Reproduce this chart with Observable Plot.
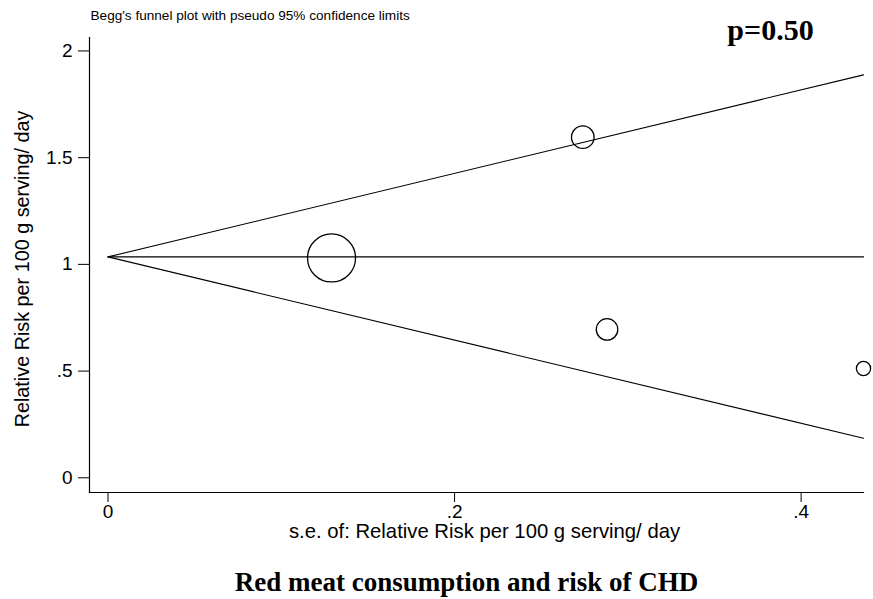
<!DOCTYPE html>
<html>
<head>
<meta charset="utf-8">
<script src="https://cdn.jsdelivr.net/npm/d3@7"></script>
<script src="https://cdn.jsdelivr.net/npm/@observablehq/plot@0.6"></script>
<style>
  html, body { margin: 0; padding: 0; background: #fff; }
  #chart svg { display: block; }
</style>
</head>
<body>
<div id="chart"></div>
<script>
// Study estimates
const studySE = [0.129, 0.274, 0.288, 0.436];
const studyRR = [1.030, 1.596, 0.695, 0.512];

// Pseudo 95% confidence limits (endpoints)
const funnelSE = [0, 0.436];
const funnelMid = [1.035, 1.035];
const funnelUpper = [1.035, 1.888];
const funnelLower = [1.035, 0.185];

// Axis ticks
const xTicks = [0, 0.2, 0.4];
const xTickLabels = ["0", ".2", ".4"];
const yTicks = [0, 0.5, 1, 1.5, 2];
const yTickLabels = ["0", ".5", "1", "1.5", "2"];

// Texts
const topTitle = "Begg's funnel plot with pseudo 95% confidence limits";
const pText = "p=0.50";
const xTitle = "s.e. of: Relative Risk per 100 g serving/ day";
const yTitle = "Relative Risk per 100 g serving/ day";
const caption = "Red meat consumption and risk of CHD";

const studies = studySE.map((s, i) => ({se: s, rr: studyRR[i], w: 1 / (s * s)}));
const funnel = funnelSE.map((s, i) => ({se: s, mid: funnelMid[i], upper: funnelUpper[i], lower: funnelLower[i]}));

const sans = "'Liberation Sans', Arial, Helvetica, sans-serif";
const serif = "'Liberation Serif', 'Times New Roman', serif";

const chart = Plot.plot({
  width: 873,
  height: 599,
  marginLeft: 89,
  marginRight: 10,
  marginTop: 37,
  marginBottom: 107,
  style: {fontFamily: sans, fontSize: "18px", color: "#000", background: "#fff"},
  x: {domain: [-0.01068, 0.436]},
  y: {domain: [-0.0689, 2.063]},
  r: {type: "sqrt", domain: [0, d3.max(studies, d => d.w)], range: [0, 24]},
  marks: [
    Plot.frame({anchor: "left", stroke: "#000", strokeWidth: 1.2}),
    Plot.frame({anchor: "bottom", stroke: "#000", strokeWidth: 1.2}),
    Plot.axisY({ticks: yTicks, tickFormat: (d, i) => yTickLabels[i], tickSize: 11, tickPadding: 6, label: null, fontSize: 19, stroke: "#000", fill: "#000"}),
    Plot.axisX({ticks: xTicks, tickFormat: (d, i) => xTickLabels[i], tickSize: 10, tickPadding: 2, label: null, fontSize: 19, stroke: "#000", fill: "#000"}),
    Plot.line(funnel, {x: "se", y: "mid", stroke: "#000", strokeWidth: 1.1}),
    Plot.line(funnel, {x: "se", y: "upper", stroke: "#000", strokeWidth: 1.1}),
    Plot.line(funnel, {x: "se", y: "lower", stroke: "#000", strokeWidth: 1.1}),
    Plot.dot(studies, {x: "se", y: "rr", r: "w", stroke: "#000", strokeWidth: 1.3, fill: "none"}),
    Plot.text([topTitle], {frameAnchor: "top-left", dx: 1, dy: -22, textAnchor: "start", lineAnchor: "middle", fontSize: 13.6, fill: "#000"}),
    Plot.text([pText], {frameAnchor: "top-right", dx: -93, dy: -7, textAnchor: "middle", lineAnchor: "middle", fontSize: 30, fontWeight: "bold", fontFamily: serif, fill: "#000"}),
    Plot.text([yTitle], {frameAnchor: "left", dx: -67, dy: 4, rotate: -90, textAnchor: "middle", lineAnchor: "middle", fontSize: 19.8, fill: "#000"}),
    Plot.text([xTitle], {frameAnchor: "bottom", dx: 8, dy: 39, textAnchor: "middle", lineAnchor: "middle", fontSize: 20.3, fill: "#000"}),
    Plot.text([caption], {frameAnchor: "bottom", dx: -10, dy: 90, textAnchor: "middle", lineAnchor: "middle", fontSize: 27, fontWeight: "bold", fontFamily: serif, fill: "#000"})
  ]
});
document.getElementById("chart").appendChild(chart);
</script>
</body>
</html>
